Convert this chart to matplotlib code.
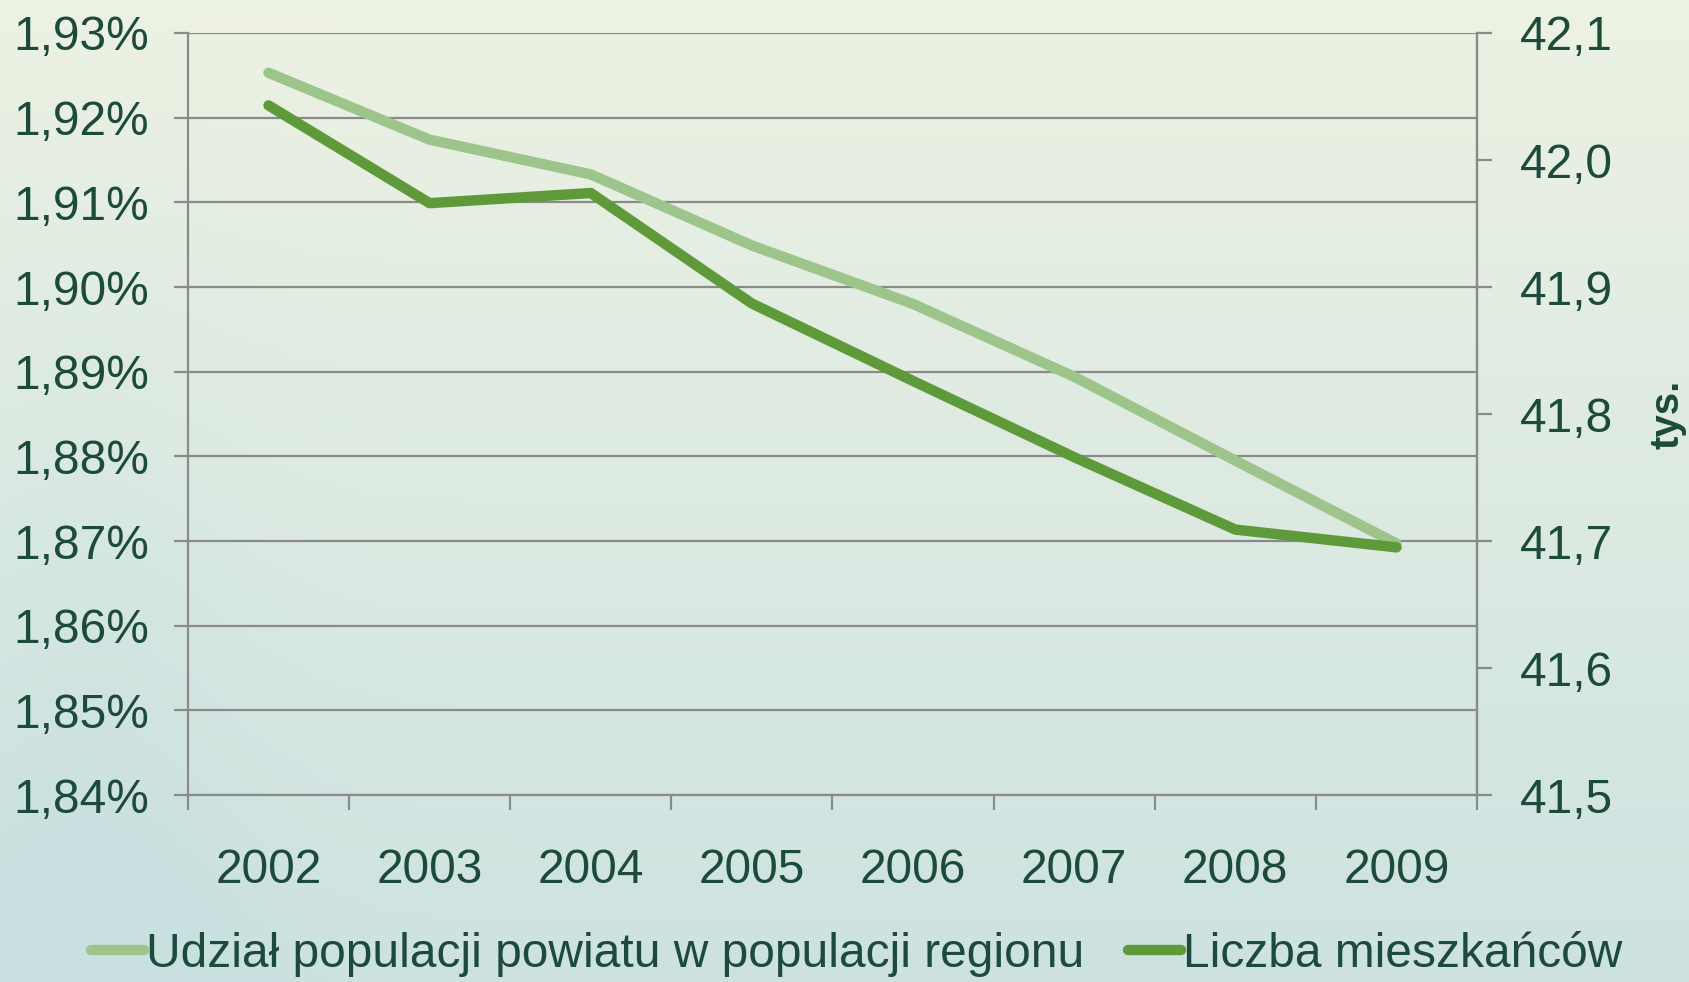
import numpy as np
import matplotlib.pyplot as plt
from matplotlib.ticker import FuncFormatter, MultipleLocator, FixedLocator

plt.rcParams['font.family'] = ['Liberation Sans', 'DejaVu Sans']

# data
years = ['2002', '2003', '2004', '2005', '2006', '2007', '2008', '2009']
udzial = [1.9253, 1.9174, 1.9133, 1.9049, 1.8980, 1.8894, 1.8795, 1.8697]   # %
liczba = [42.043, 41.966, 41.974, 41.887, 41.826, 41.766, 41.709, 41.695]   # tys.

txt = '#1c4a3b'
grid_c = '#8a8a8a'
light = '#9dc48b'
dark = '#5f9a3a'

fig = plt.figure(figsize=(16.9, 9.82), dpi=100)

# soft photo-like background
bg = fig.add_axes([0, 0, 1, 1], zorder=-10)
yy, xx = np.mgrid[0:1:200j, 0:1:300j]
top_c = np.array([0.93, 0.95, 0.89])
low_c = np.array([0.79, 0.88, 0.88])
t = np.clip(yy * 0.9 + 0.25 * np.exp(-((xx - 0.05) ** 2) / 0.01) * yy, 0, 1)
img = top_c[None, None, :] * (1 - t[..., None]) + low_c[None, None, :] * t[..., None]
bg.imshow(img, aspect='auto', extent=[0, 1, 0, 1], origin='upper')
bg.axis('off')

ax = fig.add_axes([0.1112, 0.1904, 0.7628, 0.776])
ax.patch.set_alpha(0)
x = np.arange(len(years))
ax.plot(x, udzial, color=light, lw=7.5, solid_capstyle='round',
        label='Udział populacji powiatu w populacji regionu')
ax.set_xlim(-0.5, len(years) - 0.5)
ax.set_ylim(1.84, 1.93)
ax.yaxis.set_major_locator(MultipleLocator(0.01))
ax.yaxis.set_major_formatter(FuncFormatter(lambda v, p: f'{v:.2f}%'.replace('.', ',')))
ax.grid(axis='y', color=grid_c, lw=1.6)
ax.set_axisbelow(True)

ax.set_xticks(x)
ax.set_xticklabels(years)
ax.xaxis.set_minor_locator(FixedLocator(np.arange(-0.5, len(years), 1)))
ax.tick_params(axis='x', which='major', length=0, pad=38, labelsize=34.5, labelcolor=txt)
ax.tick_params(axis='x', which='minor', length=11, width=1.6, color=grid_c, direction='out')
ax.tick_params(axis='y', length=10, width=1.6, color=grid_c, pad=18, labelsize=34.5, labelcolor=txt)

ax.spines['top'].set_visible(False)
for s in ['left', 'bottom', 'right']:
    ax.spines[s].set_color(grid_c)
    ax.spines[s].set_linewidth(1.6)

ax2 = ax.twinx()
ax2.plot(x, liczba, color=dark, lw=7.5, solid_capstyle='round', label='Liczba mieszkańców')
ax2.set_ylim(41.5, 42.1)
ax2.yaxis.set_major_locator(MultipleLocator(0.1))
ax2.yaxis.set_major_formatter(FuncFormatter(lambda v, p: f'{v:.1f}'.replace('.', ',')))
ax2.tick_params(axis='y', length=11, width=1.6, color=grid_c, pad=20, labelsize=34.5, labelcolor=txt)
for s in ['top', 'left', 'bottom']:
    ax2.spines[s].set_visible(False)
ax2.spines['right'].set_color(grid_c)
ax2.spines['right'].set_linewidth(1.6)
ax2.set_ylabel('tys.', fontsize=29, fontweight='bold', color=txt, labelpad=25)

h1, l1 = ax.get_legend_handles_labels()
h2, l2 = ax2.get_legend_handles_labels()
leg = fig.legend(h1 + h2, l1 + l2, loc='center', bbox_to_anchor=(0.507, 0.028), ncol=2,
                 frameon=False, fontsize=34.5, handlelength=1.1, handletextpad=0.05,
                 columnspacing=0.9)
for t_ in leg.get_texts():
    t_.set_color(txt)

fig.savefig('out.png', dpi=100)
